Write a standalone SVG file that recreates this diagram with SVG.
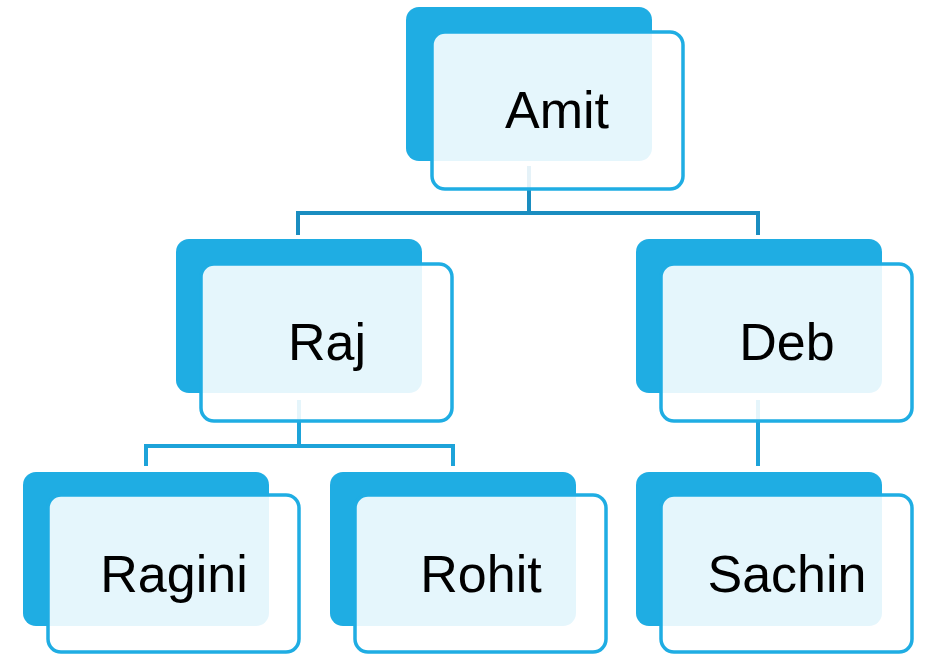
<svg xmlns="http://www.w3.org/2000/svg" width="927" height="654" viewBox="0 0 927 654">
<style>
.back{fill:#1FADE3}
.front{fill:#ffffff;fill-opacity:0.885;stroke:#1FADE3;stroke-width:3.5}
.lbl{font-family:"Liberation Sans",Arial,sans-serif;font-size:52px;fill:#000;text-anchor:middle}
.c1{fill:none;stroke:#1A8DC0;stroke-width:4}
.c2{fill:none;stroke:#1DA3D9;stroke-width:4}
</style>
<rect width="927" height="654" fill="#ffffff"/>
<g id="connectors">
<path class="c1" d="M529 166 V213 M297 213 H760 M298 211 V235 M758 211 V235"/>
<path class="c2" d="M299 400 V446 M145 446 H455 M146 444 V466 M453 444 V466"/>
<path class="c2" d="M758 400 V466"/>
</g>
<g id="amit">
<rect class="back" x="406" y="7" width="246" height="154" rx="13"/>
<rect class="front" x="432" y="32" width="251" height="157" rx="13"/>
<text class="lbl" x="557" y="128">Amit</text>
</g>
<g id="raj">
<rect class="back" x="176" y="239" width="246" height="154" rx="13"/>
<rect class="front" x="201" y="264" width="251" height="157" rx="13"/>
<text class="lbl" x="327" y="360">Raj</text>
</g>
<g id="deb">
<rect class="back" x="636" y="239" width="246" height="154" rx="13"/>
<rect class="front" x="661" y="264" width="251" height="157" rx="13"/>
<text class="lbl" x="787" y="360">Deb</text>
</g>
<g id="ragini">
<rect class="back" x="23" y="472" width="246" height="154" rx="13"/>
<rect class="front" x="48" y="495" width="251" height="157" rx="13"/>
<text class="lbl" x="174" y="592">Ragini</text>
</g>
<g id="rohit">
<rect class="back" x="330" y="472" width="246" height="154" rx="13"/>
<rect class="front" x="355" y="495" width="251" height="157" rx="13"/>
<text class="lbl" x="481" y="592">Rohit</text>
</g>
<g id="sachin">
<rect class="back" x="636" y="472" width="246" height="154" rx="13"/>
<rect class="front" x="661" y="495" width="251" height="157" rx="13"/>
<text class="lbl" x="787" y="592">Sachin</text>
</g>
</svg>
